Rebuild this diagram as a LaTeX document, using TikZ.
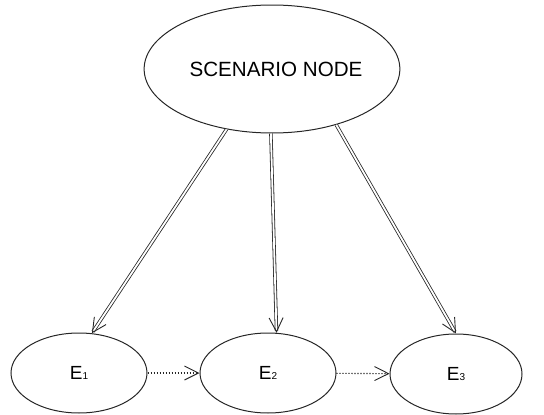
\documentclass[tikz,border=0pt]{standalone}
\usepackage{fontspec}
\setmainfont{Liberation Sans}
\usetikzlibrary{shapes.geometric,arrows.meta,decorations.markings}
\newcommand{\evsub}[1]{{\fontsize{10}{10}\selectfont #1}}

\begin{document}
\begin{tikzpicture}[x=1pt,y=-1pt]
        \tikzset{
            scnnode/.style={ellipse,draw=black!85,line width=1pt,inner sep=0pt},
            evnode/.style={ellipse,draw=black!85,line width=1pt,inner sep=0pt,minimum width=136pt,minimum height=80pt,font=\fontsize{19}{19}\selectfont},
            dblarrow/.style={draw=black!85,double,double distance=1.8pt,line width=0.8pt,shorten >=2pt,
                decoration={markings,mark=at position 1 with {\arrow[line width=0.9pt,black!85]{Straight Barb[length=14pt,width=14pt]}}},
                postaction={decorate}},
            dotarrow/.style={draw=black!85,line width=1.1pt,dash pattern=on 1.1pt off 1.9pt,-{Straight Barb[length=14pt,width=14pt,line width=0.9pt]}},
        }
        \useasboundingbox (0,0) rectangle (544,415);
        \node[scnnode,minimum width=250pt,minimum height=128pt,font=\fontsize{20.6}{21}\selectfont] (scen) at (272,69) {\hspace*{8pt}SCENARIO NODE};
        \node[evnode] (e1) at (79,373) {E\evsub{1}};
        \node[evnode] (e2) at (268,373) {E\evsub{2}};
        \node[evnode,minimum width=132pt] (e3) at (456,374) {E\evsub{3}};

        \draw[dblarrow] (scen.233) -- (e1.72);
        \draw[dblarrow] (scen.269) -- (e2.78);
        \draw[dblarrow] (scen.319) -- (e3.90);
        \draw[dotarrow] (e1) -- (e2);
        \draw[dotarrow] (e2) -- (e3);
    \end{tikzpicture}
\end{document}
